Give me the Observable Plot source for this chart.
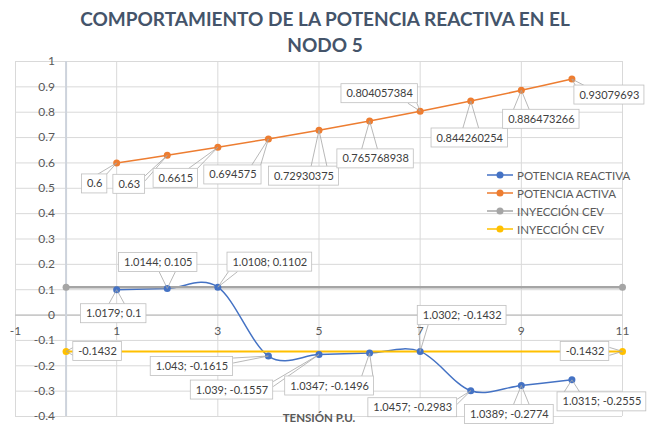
<!DOCTYPE html>
<html><head><meta charset="utf-8">
<script src="https://cdn.jsdelivr.net/npm/d3@7"></script>
<script src="https://cdn.jsdelivr.net/npm/@observablehq/plot@0.6"></script>
<style>
html,body{margin:0;padding:0;background:#fff}
#wrap{position:relative;width:650px;height:427px;overflow:hidden;font-family:Lato,sans-serif}
#title{position:relative;z-index:2;height:40px;box-sizing:border-box;padding-top:6px;text-align:center;font-weight:700;font-size:19px;line-height:26px;color:#44546A;white-space:nowrap}
#chart{position:relative;z-index:1}
#chart svg{display:block;background:transparent}
#legend{position:absolute;z-index:3;left:487px;top:166px;font-size:11.5px;color:#595959}
.item{display:flex;align-items:center;height:18px}
.item svg{margin-right:4px;display:block}
</style></head>
<body><div id="wrap">
<div id="title">COMPORTAMIENTO DE LA POTENCIA REACTIVA EN EL<br>NODO 5</div>
<div id="chart"></div>
<div id="legend"></div>
</div>
<script>
// ---- data ----
const nodos = [1,2,3,4,5,6,7,8,9,10];
const potenciaReactiva = [0.1,0.105,0.1102,-0.1615,-0.1557,-0.1496,-0.1432,-0.2983,-0.2774,-0.2555];
const tensionPU = [1.0179,1.0144,1.0108,1.043,1.039,1.0347,1.0302,1.0457,1.0389,1.0315];
const potenciaActiva = [0.6,0.63,0.6615,0.694575,0.72930375,0.765768938,0.804057384,0.844260254,0.886473266,0.93079693];
const cevX = [0, 11];
const cevGris = [0.1102, 0.1102];
const cevAmarillo = [-0.1432, -0.1432];
const xTicks = [-1,1,3,5,7,9,11];
const yTicks = [-0.4,-0.3,-0.2,-0.1,0,0.1,0.2,0.3,0.4,0.5,0.6,0.7,0.8,0.9,1];
const seriesNames = ["POTENCIA REACTIVA","POTENCIA ACTIVA","INYECCIÓN CEV","INYECCIÓN CEV"];
const seriesColors = ["#4472C4","#ED7D31","#A5A5A5","#FFC000"];
const xTitle = "TENSIÓN P.U.";

// ---- label placement (px offset from point to label-box centre) ----
const activaLabelOffsets = [[-22,21],[-38,29],[-42,31],[-35.5,36],[-15,46],[6,38],[-40.5,-17.5],[-1,37],[20,29],[37.5,16]];
const reactivaLabelOffsets = [[-3,24],[-9,-26],[52,-25],[-76.5,10.5],[-87,35.5],[-40,33],[42,-36],[-58,17],[-12,29],[30,22]];
const cevLabelOffsets = [[31.5,0],[-37.5,0]];

const W=650,H=387,mL=15,mR=28,mT=21,mB=11;
const xs = Plot.scale({x:{domain:[-1,11], range:[mL, W-mR]}});
const ys = Plot.scale({y:{domain:[-0.4,1], range:[H-mB, mT]}});

const ctx = document.createElement("canvas").getContext("2d");
const LABEL_FONT = 11;
ctx.font = LABEL_FONT + "px Lato";
const clamp = (v,a,b)=>Math.max(a,Math.min(b,v));

const boxes = [], leaders = [];
function addLabels(xArr, yArr, texts, offsets){
  xArr.forEach((x,i)=>{
    const px = xs.apply(x), py = ys.apply(yArr[i]);
    const [dx,dy] = offsets[i];
    const cx = px+dx, cy = py+dy;
    const hw = ctx.measureText(texts[i]).width/2 + 5, hh = 9.5;
    let e1, e2;
    if (Math.abs(dy)-hh > Math.abs(dx)-hw) {
      const ey = dy>0 ? cy-hh : cy+hh;
      const p = clamp(px, cx-hw+2, cx+hw-2);
      e1=[Math.max(cx-hw+1,p-8), ey]; e2=[Math.min(cx+hw-1,p+8), ey];
    } else {
      const ex = dx>0 ? cx-hw : cx+hw;
      const p = clamp(py, cy-hh+2, cy+hh-2);
      e1=[ex, Math.max(cy-hh+1,p-4)]; e2=[ex, Math.min(cy+hh-1,p+4)];
    }
    boxes.push({text:texts[i], cx:xs.invert(cx), cy:ys.invert(cy),
      x1:xs.invert(cx-hw), x2:xs.invert(cx+hw), y1:ys.invert(cy-hh), y2:ys.invert(cy+hh)});
    [e1,e2].forEach(e=>leaders.push({x1:x, y1:yArr[i], x2:xs.invert(e[0]), y2:ys.invert(e[1])}));
  });
}
addLabels(nodos, potenciaActiva, potenciaActiva.map(String), activaLabelOffsets);
addLabels(nodos, potenciaReactiva, nodos.map((_,i)=>`${tensionPU[i]}; ${potenciaReactiva[i]}`), reactivaLabelOffsets);
addLabels(cevX, cevAmarillo, cevAmarillo.map(String), cevLabelOffsets);

const reactiva = nodos.map((x,i)=>({x, y:potenciaReactiva[i]}));
const activa = nodos.map((x,i)=>({x, y:potenciaActiva[i]}));
const gris = cevX.map((x,i)=>({x, y:cevGris[i]}));
const amarillo = cevX.map((x,i)=>({x, y:cevAmarillo[i]}));
const fmt = d => String(+d.toFixed(1));

const plot = Plot.plot({
  width:W, height:H, marginLeft:mL, marginRight:mR, marginTop:mT, marginBottom:mB,
  x:{domain:[-1,11], axis:null},
  y:{domain:[-0.4,1], axis:null},
  style:{fontFamily:"Lato, sans-serif", background:"transparent"},
  marks:[
    Plot.ruleY(yTicks, {stroke:"#d9d9d9", strokeWidth:1}),
    Plot.ruleX(xTicks, {stroke:"#d9d9d9", strokeWidth:1}),
    Plot.ruleY([0], {stroke:"#bfbfbf", strokeWidth:1.25}),
    Plot.ruleX([0], {stroke:"#cdd3dc", strokeWidth:2}),
    Plot.text(yTicks, {x:0, y:d=>d, text:fmt, dx:-11, textAnchor:"end", fill:"#595959", fontSize:12}),
    Plot.text(xTicks, {x:d=>d, y:0, text:d=>String(d), dy:16, fill:"#595959", fontSize:12}),
    Plot.line(reactiva, {x:"x", y:"y", stroke:seriesColors[0], strokeWidth:1.5, curve:"cardinal"}),
    Plot.line(activa, {x:"x", y:"y", stroke:seriesColors[1], strokeWidth:1.5, curve:"cardinal"}),
    Plot.line(gris, {x:"x", y:"y", stroke:seriesColors[2], strokeWidth:2.5}),
    Plot.line(amarillo, {x:"x", y:"y", stroke:seriesColors[3], strokeWidth:2}),
    Plot.dot(reactiva, {x:"x", y:"y", r:3.5, fill:seriesColors[0]}),
    Plot.dot(activa, {x:"x", y:"y", r:3.5, fill:seriesColors[1]}),
    Plot.dot(gris, {x:"x", y:"y", r:3.5, fill:seriesColors[2]}),
    Plot.dot(amarillo, {x:"x", y:"y", r:3.5, fill:seriesColors[3]}),
    Plot.link(leaders, {x1:"x1", y1:"y1", x2:"x2", y2:"y2", stroke:"#a6a6a6", strokeWidth:0.8}),
    Plot.rect(boxes, {x1:"x1", x2:"x2", y1:"y1", y2:"y2", fill:"#fff", stroke:"#bfbfbf", strokeWidth:0.8}),
    Plot.text(boxes, {x:"cx", y:"cy", text:"text", fill:"#404040", fontSize:LABEL_FONT}),
    Plot.text([xTitle], {text:d=>d, frameAnchor:"bottom", dy:5, fontWeight:"bold", fontSize:11.5, fill:"#595959"})
  ]
});
document.getElementById("chart").appendChild(plot);

const legend = document.getElementById("legend");
seriesNames.forEach((name,i)=>{
  const row = document.createElement("div");
  row.className = "item";
  row.innerHTML = `<svg width="26" height="10"><line x1="0" y1="5" x2="26" y2="5" stroke="${seriesColors[i]}" stroke-width="1.5"/><circle cx="13" cy="5" r="3.5" fill="${seriesColors[i]}"/></svg><span>${name}</span>`;
  legend.appendChild(row);
});
</script>
</body></html>
